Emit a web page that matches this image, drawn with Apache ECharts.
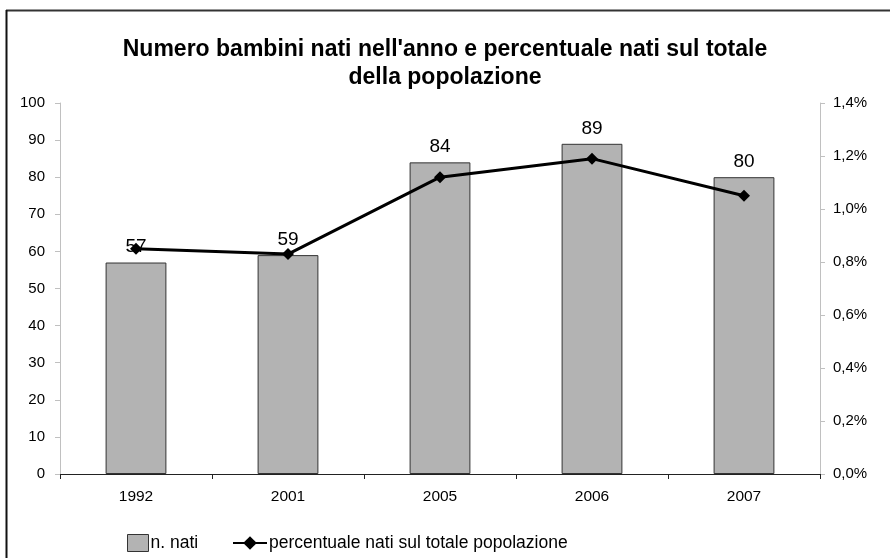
<!DOCTYPE html>
<html>
<head>
<meta charset="utf-8">
<script src="https://cdn.jsdelivr.net/npm/echarts@6/dist/echarts.min.js"></script>
<style>
html, body { margin: 0; padding: 0; background: #fff; }
#chart { width: 890px; height: 558px; }
</style>
</head>
<body>
<div id="chart"></div>
<script>
// dati
var anni = ["1992", "2001", "2005", "2006", "2007"];
var nati = [57, 59, 84, 89, 80];
var percentuale = [0.85, 0.83, 1.12, 1.19, 1.05];

var font = "Arial, 'Liberation Sans', sans-serif";

function fmtPerc(v) {
  return v.toFixed(1).replace(".", ",") + "%";
}

var myChart = echarts.init(document.getElementById("chart"));

var legendText = { fontFamily: font, fontSize: 17.5, color: "#000", padding: [0, 0, 0, -3] };

var option = {
  backgroundColor: "#fff",
  animation: false,
  title: {
    text: "Numero bambini nati nell'anno e percentuale nati sul totale\ndella popolazione",
    left: "center",
    top: 31,
    textStyle: {
      fontFamily: font,
      fontSize: 23,
      fontWeight: "bold",
      color: "#000",
      lineHeight: 28
    }
  },
  // cornice (solo lato sinistro e superiore visibili)
  graphic: [
    { type: "line", shape: { x1: 6, y1: 10.5, x2: 890, y2: 10.5 }, style: { stroke: "#333", lineWidth: 2 } },
    { type: "line", shape: { x1: 6.5, y1: 10, x2: 6.5, y2: 558 }, style: { stroke: "#111", lineWidth: 2 } }
  ],
  legend: [
    {
      left: 122,
      top: 529,
      itemWidth: 21,
      itemHeight: 17,
      textStyle: legendText,
      data: [
        { name: "n. nati", icon: "rect", itemStyle: { color: "#b3b3b3", borderColor: "#333", borderWidth: 1 } }
      ]
    },
    {
      left: 227,
      top: 529,
      itemWidth: 34,
      itemHeight: 17,
      textStyle: legendText,
      data: [{ name: "percentuale nati sul totale popolazione" }]
    }
  ],
  grid: {
    left: 60,
    right: 70,
    top: 103,
    bottom: 84
  },
  xAxis: {
    type: "category",
    data: anni,
    axisLine: { lineStyle: { color: "#222", width: 1 } },
    axisTick: { show: true, length: 5, lineStyle: { color: "#222" } },
    axisLabel: { fontFamily: font, fontSize: 15.5, color: "#000", margin: 15 }
  },
  yAxis: [
    {
      type: "value",
      min: 0,
      max: 100,
      interval: 10,
      splitLine: { show: false },
      axisLine: { show: true, lineStyle: { color: "#c0c0c0" } },
      axisTick: { show: true, length: 5, lineStyle: { color: "#c0c0c0" } },
      axisLabel: { fontFamily: font, fontSize: 15, color: "#000", margin: 15 }
    },
    {
      type: "value",
      min: 0,
      max: 1.4,
      interval: 0.2,
      position: "right",
      splitLine: { show: false },
      axisLine: { show: true, lineStyle: { color: "#c0c0c0" } },
      axisTick: { show: true, length: 5, lineStyle: { color: "#c0c0c0" } },
      axisLabel: {
        fontFamily: font,
        fontSize: 15,
        color: "#000",
        margin: 13,
        formatter: fmtPerc
      }
    }
  ],
  series: [
    {
      name: "n. nati",
      type: "bar",
      data: nati,
      barWidth: "40%",
      itemStyle: { color: "#b3b3b3", borderColor: "#333", borderWidth: 1 },
      label: {
        show: true,
        position: "top",
        distance: 6,
        fontFamily: font,
        fontSize: 19,
        color: "#000"
      }
    },
    {
      name: "percentuale nati sul totale popolazione",
      type: "line",
      yAxisIndex: 1,
      data: percentuale,
      symbol: "diamond",
      symbolSize: 12,
      lineStyle: { color: "#000", width: 3 },
      itemStyle: { color: "#000" }
    }
  ]
};

myChart.setOption(option);
</script>
</body>
</html>
